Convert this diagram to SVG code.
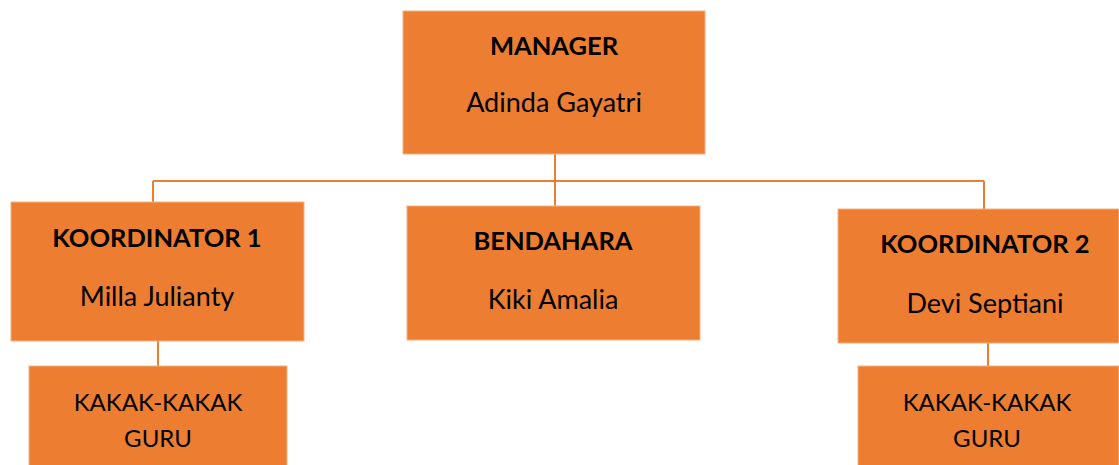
<svg xmlns="http://www.w3.org/2000/svg" width="1119" height="465" viewBox="0 0 1119 465">
<style>
.box{fill:#ED7D31;stroke:#F4B183;stroke-width:1}
.conn{stroke:#ED7D31;stroke-width:2;fill:none}
text{font-family:Lato,"Liberation Sans",sans-serif;font-size:24px;fill:#000;text-anchor:middle}
.t{font-weight:bold;font-size:25.5px}
.n{font-size:27px}
</style>
<rect width="1119" height="465" fill="#fff"/>
<g id="connectors">
<path class="conn" d="M555 154V181M153 181H984M153 181V202M555 181V206M984 181V209M158 341V366M988 343V366"/>
</g>
<g id="manager">
<rect class="box" x="403" y="11" width="302" height="143"/>
<text class="t" x="554" y="55">MANAGER</text>
<text class="n" x="554" y="112">Adinda Gayatri</text>
</g>
<g id="koordinator1">
<rect class="box" x="11" y="202" width="293" height="139"/>
<text class="t" x="157" y="247">KOORDINATOR 1</text>
<text class="n" x="157" y="306">Milla Julianty</text>
</g>
<g id="bendahara">
<rect class="box" x="407" y="206" width="293" height="134"/>
<text class="t" x="553" y="250">BENDAHARA</text>
<text class="n" x="553" y="309">Kiki Amalia</text>
</g>
<g id="koordinator2">
<rect class="box" x="838" y="209" width="281" height="134"/>
<text class="t" x="985" y="253">KOORDINATOR 2</text>
<text class="n" x="985" y="313">Devi Septiani</text>
</g>
<g id="guru1">
<rect class="box" x="29" y="366" width="258" height="100"/>
<text x="158" y="411">KAKAK-KAKAK</text>
<text x="158" y="447">GURU</text>
</g>
<g id="guru2">
<rect class="box" x="858" y="366" width="261" height="100"/>
<text x="987" y="411">KAKAK-KAKAK</text>
<text x="987" y="447">GURU</text>
</g>
</svg>
